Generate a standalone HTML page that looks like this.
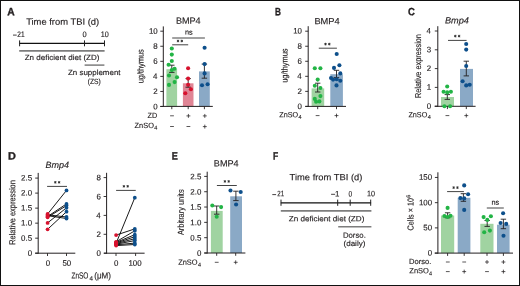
<!DOCTYPE html>
<html><head><meta charset="utf-8"><style>
html,body{margin:0;padding:0;background:#fff;width:520px;height:286px;overflow:hidden}
svg{display:block;will-change:transform}
text{font-family:"Liberation Sans", sans-serif;text-rendering:geometricPrecision;fill:#231f20;stroke:#231f20;stroke-width:0.15px}
</style></head><body>
<svg width="520" height="286" viewBox="0 0 520 286">
<rect x="0" y="0" width="520" height="286" fill="#fff"/>
<rect class="sh" x="0.5" y="0.5" width="519" height="285" fill="none" stroke="#111" stroke-width="1"/>
<line class="sh" x1="19.2" y1="43.4" x2="105" y2="43.4" stroke="#111" stroke-width="1.3"/>
<line class="sh" x1="19.6" y1="40.4" x2="19.6" y2="46.3" stroke="#222" stroke-width="1"/>
<line class="sh" x1="84.5" y1="40.4" x2="84.5" y2="46.3" stroke="#222" stroke-width="1"/>
<line class="sh" x1="104.5" y1="40.4" x2="104.5" y2="46.3" stroke="#222" stroke-width="1"/>
<line class="sh" x1="19.2" y1="50.9" x2="104.6" y2="50.9" stroke="#7d7d7d" stroke-width="1.9"/>
<line class="sh" x1="84.6" y1="65.1" x2="104.4" y2="65.1" stroke="#7d7d7d" stroke-width="1.5"/>
<line class="sh" x1="13" y1="35.1" x2="16.7" y2="35.1" stroke="#231f20" stroke-width="0.85"/>
<line class="sh" x1="272.3" y1="194.6" x2="276.1" y2="194.6" stroke="#231f20" stroke-width="0.85"/>
<line class="sh" x1="331.1" y1="194.3" x2="335.1" y2="194.3" stroke="#231f20" stroke-width="0.85"/>
<line class="sh" x1="280.8" y1="202.8" x2="371.1" y2="202.8" stroke="#111" stroke-width="1.3"/>
<line class="sh" x1="281" y1="199.6" x2="281" y2="205.8" stroke="#222" stroke-width="1"/>
<line class="sh" x1="337.7" y1="199.6" x2="337.7" y2="205.8" stroke="#222" stroke-width="1"/>
<line class="sh" x1="350.2" y1="199.6" x2="350.2" y2="205.8" stroke="#222" stroke-width="1"/>
<line class="sh" x1="370.7" y1="199.6" x2="370.7" y2="205.8" stroke="#222" stroke-width="1"/>
<line class="sh" x1="280.8" y1="210.9" x2="371.4" y2="210.9" stroke="#7d7d7d" stroke-width="1.9"/>
<line class="sh" x1="338.2" y1="226.7" x2="371.4" y2="226.7" stroke="#7d7d7d" stroke-width="1.5"/>
<rect class="sh" x="166.4" y="69.2" width="10.7" height="37.1" fill="#a0d3a1"/>
<rect class="sh" x="182.9" y="83.3" width="10.6" height="23" fill="#e08595"/>
<rect class="sh" x="199" y="71.4" width="10.8" height="34.9" fill="#8aa9c6"/>
<line class="sh" x1="163.3" y1="26.4" x2="163.3" y2="106.8" stroke="#231f20" stroke-width="1"/>
<line class="sh" x1="160.3" y1="106.5" x2="163.3" y2="106.5" stroke="#231f20" stroke-width="0.9"/>
<line class="sh" x1="160.3" y1="91.44" x2="163.3" y2="91.44" stroke="#231f20" stroke-width="0.9"/>
<line class="sh" x1="160.3" y1="76.38" x2="163.3" y2="76.38" stroke="#231f20" stroke-width="0.9"/>
<line class="sh" x1="160.3" y1="61.32" x2="163.3" y2="61.32" stroke="#231f20" stroke-width="0.9"/>
<line class="sh" x1="160.3" y1="46.26" x2="163.3" y2="46.26" stroke="#231f20" stroke-width="0.9"/>
<line class="sh" x1="160.3" y1="31.2" x2="163.3" y2="31.2" stroke="#231f20" stroke-width="0.9"/>
<line class="sh" x1="160.3" y1="106.4" x2="212.8" y2="106.4" stroke="#231f20" stroke-width="1"/>
<line class="sh" x1="171.8" y1="106.4" x2="171.8" y2="109.2" stroke="#231f20" stroke-width="0.9"/>
<line class="sh" x1="188.2" y1="106.4" x2="188.2" y2="109.2" stroke="#231f20" stroke-width="0.9"/>
<line class="sh" x1="204.4" y1="106.4" x2="204.4" y2="109.2" stroke="#231f20" stroke-width="0.9"/>
<line class="sh" x1="171.8" y1="65.2" x2="171.8" y2="72.4" stroke="#231f20" stroke-width="0.9"/>
<line class="sh" x1="169.1" y1="65.2" x2="174.5" y2="65.2" stroke="#231f20" stroke-width="0.9"/>
<line class="sh" x1="169.1" y1="72.4" x2="174.5" y2="72.4" stroke="#231f20" stroke-width="0.9"/>
<line class="sh" x1="188.2" y1="78.6" x2="188.2" y2="87.2" stroke="#231f20" stroke-width="0.9"/>
<line class="sh" x1="185.5" y1="78.6" x2="190.9" y2="78.6" stroke="#231f20" stroke-width="0.9"/>
<line class="sh" x1="185.5" y1="87.2" x2="190.9" y2="87.2" stroke="#231f20" stroke-width="0.9"/>
<line class="sh" x1="204.4" y1="64.1" x2="204.4" y2="78.2" stroke="#231f20" stroke-width="0.9"/>
<line class="sh" x1="201.7" y1="64.1" x2="207.1" y2="64.1" stroke="#231f20" stroke-width="0.9"/>
<line class="sh" x1="201.7" y1="78.2" x2="207.1" y2="78.2" stroke="#231f20" stroke-width="0.9"/>
<circle class="sh" cx="171.8" cy="48.5" r="2.05" fill="#22b445"/>
<circle class="sh" cx="171.8" cy="54.6" r="2.05" fill="#22b445"/>
<circle class="sh" cx="171.8" cy="61" r="2.05" fill="#22b445"/>
<circle class="sh" cx="168.6" cy="64.8" r="2.05" fill="#22b445"/>
<circle class="sh" cx="174.6" cy="68.7" r="2.05" fill="#22b445"/>
<circle class="sh" cx="171.8" cy="70.1" r="2.05" fill="#22b445"/>
<circle class="sh" cx="169" cy="75.5" r="2.05" fill="#22b445"/>
<circle class="sh" cx="177" cy="77.2" r="2.05" fill="#22b445"/>
<circle class="sh" cx="174.6" cy="82.1" r="2.05" fill="#22b445"/>
<circle class="sh" cx="169" cy="84.9" r="2.05" fill="#22b445"/>
<circle class="sh" cx="188.1" cy="68.3" r="2.05" fill="#d7122e"/>
<circle class="sh" cx="188.1" cy="78.6" r="2.05" fill="#d7122e"/>
<circle class="sh" cx="188.1" cy="84.7" r="2.05" fill="#d7122e"/>
<circle class="sh" cx="190.9" cy="89.3" r="2.05" fill="#d7122e"/>
<circle class="sh" cx="185.3" cy="93.2" r="2.05" fill="#d7122e"/>
<circle class="sh" cx="204.6" cy="47.7" r="2.05" fill="#0d4f8b"/>
<circle class="sh" cx="204.6" cy="64.1" r="2.05" fill="#0d4f8b"/>
<circle class="sh" cx="204.6" cy="73.4" r="2.05" fill="#0d4f8b"/>
<circle class="sh" cx="202" cy="85.3" r="2.05" fill="#0d4f8b"/>
<circle class="sh" cx="207.6" cy="84.2" r="2.05" fill="#0d4f8b"/>
<line class="sh" x1="172.2" y1="38" x2="204.9" y2="38" stroke="#444" stroke-width="1"/>
<line class="sh" x1="172.2" y1="44.8" x2="188.2" y2="44.8" stroke="#444" stroke-width="1"/>
<line class="sh" x1="178" y1="42.3" x2="178" y2="39.7" stroke="#2a2a2a" stroke-width="0.85"/>
<line class="sh" x1="176.87" y1="41.65" x2="179.13" y2="40.35" stroke="#2a2a2a" stroke-width="0.85"/>
<line class="sh" x1="179.13" y1="41.65" x2="176.87" y2="40.35" stroke="#2a2a2a" stroke-width="0.85"/>
<line class="sh" x1="181.8" y1="42.3" x2="181.8" y2="39.7" stroke="#2a2a2a" stroke-width="0.85"/>
<line class="sh" x1="180.67" y1="41.65" x2="182.93" y2="40.35" stroke="#2a2a2a" stroke-width="0.85"/>
<line class="sh" x1="182.93" y1="41.65" x2="180.67" y2="40.35" stroke="#2a2a2a" stroke-width="0.85"/>
<line class="sh" x1="170.1" y1="115.8" x2="173.9" y2="115.8" stroke="#231f20" stroke-width="0.75"/>
<line class="sh" x1="186.45" y1="115.9" x2="190.35" y2="115.9" stroke="#231f20" stroke-width="0.75"/>
<line class="sh" x1="188.4" y1="113.95" x2="188.4" y2="117.85" stroke="#231f20" stroke-width="0.75"/>
<line class="sh" x1="202.85" y1="115.9" x2="206.75" y2="115.9" stroke="#231f20" stroke-width="0.75"/>
<line class="sh" x1="204.8" y1="113.95" x2="204.8" y2="117.85" stroke="#231f20" stroke-width="0.75"/>
<line class="sh" x1="170.1" y1="126.5" x2="173.9" y2="126.5" stroke="#231f20" stroke-width="0.75"/>
<line class="sh" x1="186.5" y1="126.5" x2="190.3" y2="126.5" stroke="#231f20" stroke-width="0.75"/>
<line class="sh" x1="202.85" y1="126.6" x2="206.75" y2="126.6" stroke="#231f20" stroke-width="0.75"/>
<line class="sh" x1="204.8" y1="124.65" x2="204.8" y2="128.55" stroke="#231f20" stroke-width="0.75"/>
<rect class="sh" x="311.6" y="88.4" width="12.6" height="18" fill="#a0d3a1"/>
<rect class="sh" x="330.3" y="74.2" width="12.6" height="32.2" fill="#8aa9c6"/>
<line class="sh" x1="308.2" y1="26.2" x2="308.2" y2="106.9" stroke="#231f20" stroke-width="1"/>
<line class="sh" x1="305.2" y1="106.4" x2="308.2" y2="106.4" stroke="#231f20" stroke-width="0.9"/>
<line class="sh" x1="305.2" y1="91.36" x2="308.2" y2="91.36" stroke="#231f20" stroke-width="0.9"/>
<line class="sh" x1="305.2" y1="76.32" x2="308.2" y2="76.32" stroke="#231f20" stroke-width="0.9"/>
<line class="sh" x1="305.2" y1="61.28" x2="308.2" y2="61.28" stroke="#231f20" stroke-width="0.9"/>
<line class="sh" x1="305.2" y1="46.24" x2="308.2" y2="46.24" stroke="#231f20" stroke-width="0.9"/>
<line class="sh" x1="305.2" y1="31.2" x2="308.2" y2="31.2" stroke="#231f20" stroke-width="0.9"/>
<line class="sh" x1="305.3" y1="106.4" x2="346" y2="106.4" stroke="#231f20" stroke-width="1"/>
<line class="sh" x1="317.7" y1="106.4" x2="317.7" y2="109.2" stroke="#231f20" stroke-width="0.9"/>
<line class="sh" x1="336.5" y1="106.4" x2="336.5" y2="109.2" stroke="#231f20" stroke-width="0.9"/>
<line class="sh" x1="317.7" y1="83.2" x2="317.7" y2="92" stroke="#231f20" stroke-width="0.9"/>
<line class="sh" x1="315" y1="83.2" x2="320.4" y2="83.2" stroke="#231f20" stroke-width="0.9"/>
<line class="sh" x1="315" y1="92" x2="320.4" y2="92" stroke="#231f20" stroke-width="0.9"/>
<line class="sh" x1="336.5" y1="70.3" x2="336.5" y2="77.6" stroke="#231f20" stroke-width="0.9"/>
<line class="sh" x1="333.8" y1="70.3" x2="339.2" y2="70.3" stroke="#231f20" stroke-width="0.9"/>
<line class="sh" x1="333.8" y1="77.6" x2="339.2" y2="77.6" stroke="#231f20" stroke-width="0.9"/>
<circle class="sh" cx="314.8" cy="68.3" r="2.05" fill="#22b445"/>
<circle class="sh" cx="320.4" cy="68.3" r="2.05" fill="#22b445"/>
<circle class="sh" cx="317.7" cy="79.6" r="2.05" fill="#22b445"/>
<circle class="sh" cx="314.8" cy="85.8" r="2.05" fill="#22b445"/>
<circle class="sh" cx="320.4" cy="88" r="2.05" fill="#22b445"/>
<circle class="sh" cx="320.4" cy="96.1" r="2.05" fill="#22b445"/>
<circle class="sh" cx="314.8" cy="98.9" r="2.05" fill="#22b445"/>
<circle class="sh" cx="316.1" cy="101.7" r="2.05" fill="#22b445"/>
<circle class="sh" cx="319.4" cy="101.4" r="2.05" fill="#22b445"/>
<circle class="sh" cx="336.7" cy="54" r="2.05" fill="#0d4f8b"/>
<circle class="sh" cx="339.4" cy="65.3" r="2.05" fill="#0d4f8b"/>
<circle class="sh" cx="334" cy="67.9" r="2.05" fill="#0d4f8b"/>
<circle class="sh" cx="340.3" cy="73.4" r="2.05" fill="#0d4f8b"/>
<circle class="sh" cx="331" cy="78" r="2.05" fill="#0d4f8b"/>
<circle class="sh" cx="333.1" cy="79.6" r="2.05" fill="#0d4f8b"/>
<circle class="sh" cx="336.7" cy="79.2" r="2.05" fill="#0d4f8b"/>
<circle class="sh" cx="340.3" cy="80.7" r="2.05" fill="#0d4f8b"/>
<circle class="sh" cx="336.5" cy="85.4" r="2.05" fill="#0d4f8b"/>
<line class="sh" x1="318.8" y1="48.2" x2="336.9" y2="48.2" stroke="#444" stroke-width="1"/>
<line class="sh" x1="325.5" y1="45.4" x2="325.5" y2="42.8" stroke="#2a2a2a" stroke-width="0.85"/>
<line class="sh" x1="324.37" y1="44.75" x2="326.63" y2="43.45" stroke="#2a2a2a" stroke-width="0.85"/>
<line class="sh" x1="326.63" y1="44.75" x2="324.37" y2="43.45" stroke="#2a2a2a" stroke-width="0.85"/>
<line class="sh" x1="329.3" y1="45.4" x2="329.3" y2="42.8" stroke="#2a2a2a" stroke-width="0.85"/>
<line class="sh" x1="328.17" y1="44.75" x2="330.43" y2="43.45" stroke="#2a2a2a" stroke-width="0.85"/>
<line class="sh" x1="330.43" y1="44.75" x2="328.17" y2="43.45" stroke="#2a2a2a" stroke-width="0.85"/>
<line class="sh" x1="315.7" y1="115.6" x2="319.5" y2="115.6" stroke="#231f20" stroke-width="0.75"/>
<line class="sh" x1="334.55" y1="115.6" x2="338.45" y2="115.6" stroke="#231f20" stroke-width="0.75"/>
<line class="sh" x1="336.5" y1="113.65" x2="336.5" y2="117.55" stroke="#231f20" stroke-width="0.75"/>
<rect class="sh" x="441" y="97" width="13" height="9.3" fill="#a0d3a1"/>
<rect class="sh" x="460" y="68.9" width="13" height="37.4" fill="#8aa9c6"/>
<line class="sh" x1="437.8" y1="26.2" x2="437.8" y2="106.8" stroke="#231f20" stroke-width="1"/>
<line class="sh" x1="434.8" y1="106.2" x2="437.8" y2="106.2" stroke="#231f20" stroke-width="0.9"/>
<line class="sh" x1="434.8" y1="87.4" x2="437.8" y2="87.4" stroke="#231f20" stroke-width="0.9"/>
<line class="sh" x1="434.8" y1="68.6" x2="437.8" y2="68.6" stroke="#231f20" stroke-width="0.9"/>
<line class="sh" x1="434.8" y1="49.8" x2="437.8" y2="49.8" stroke="#231f20" stroke-width="0.9"/>
<line class="sh" x1="434.8" y1="31" x2="437.8" y2="31" stroke="#231f20" stroke-width="0.9"/>
<line class="sh" x1="434.7" y1="106.3" x2="475.6" y2="106.3" stroke="#231f20" stroke-width="1"/>
<line class="sh" x1="447.4" y1="106.3" x2="447.4" y2="109.1" stroke="#231f20" stroke-width="0.9"/>
<line class="sh" x1="466.3" y1="106.3" x2="466.3" y2="109.1" stroke="#231f20" stroke-width="0.9"/>
<line class="sh" x1="447.3" y1="94.6" x2="447.3" y2="99.4" stroke="#231f20" stroke-width="0.9"/>
<line class="sh" x1="444.6" y1="94.6" x2="450" y2="94.6" stroke="#231f20" stroke-width="0.9"/>
<line class="sh" x1="444.6" y1="99.4" x2="450" y2="99.4" stroke="#231f20" stroke-width="0.9"/>
<line class="sh" x1="466.3" y1="61.2" x2="466.3" y2="75.9" stroke="#231f20" stroke-width="0.9"/>
<line class="sh" x1="463.6" y1="61.2" x2="469" y2="61.2" stroke="#231f20" stroke-width="0.9"/>
<line class="sh" x1="463.6" y1="75.9" x2="469" y2="75.9" stroke="#231f20" stroke-width="0.9"/>
<circle class="sh" cx="447.2" cy="86.5" r="2.05" fill="#22b445"/>
<circle class="sh" cx="443.6" cy="91.7" r="2.05" fill="#22b445"/>
<circle class="sh" cx="447.2" cy="92.4" r="2.05" fill="#22b445"/>
<circle class="sh" cx="450.9" cy="91.7" r="2.05" fill="#22b445"/>
<circle class="sh" cx="444.4" cy="106.3" r="2.05" fill="#22b445"/>
<circle class="sh" cx="450.1" cy="106.3" r="2.05" fill="#22b445"/>
<circle class="sh" cx="466.2" cy="44" r="2.05" fill="#0d4f8b"/>
<circle class="sh" cx="466.2" cy="49.6" r="2.05" fill="#0d4f8b"/>
<circle class="sh" cx="466.2" cy="66" r="2.05" fill="#0d4f8b"/>
<circle class="sh" cx="462.6" cy="81.2" r="2.05" fill="#0d4f8b"/>
<circle class="sh" cx="466.2" cy="85.4" r="2.05" fill="#0d4f8b"/>
<circle class="sh" cx="469.7" cy="84.7" r="2.05" fill="#0d4f8b"/>
<line class="sh" x1="448" y1="40.4" x2="466.6" y2="40.4" stroke="#444" stroke-width="1"/>
<line class="sh" x1="455.3" y1="37.4" x2="455.3" y2="34.8" stroke="#2a2a2a" stroke-width="0.85"/>
<line class="sh" x1="454.17" y1="36.75" x2="456.43" y2="35.45" stroke="#2a2a2a" stroke-width="0.85"/>
<line class="sh" x1="456.43" y1="36.75" x2="454.17" y2="35.45" stroke="#2a2a2a" stroke-width="0.85"/>
<line class="sh" x1="459.1" y1="37.4" x2="459.1" y2="34.8" stroke="#2a2a2a" stroke-width="0.85"/>
<line class="sh" x1="457.97" y1="36.75" x2="460.23" y2="35.45" stroke="#2a2a2a" stroke-width="0.85"/>
<line class="sh" x1="460.23" y1="36.75" x2="457.97" y2="35.45" stroke="#2a2a2a" stroke-width="0.85"/>
<line class="sh" x1="445.5" y1="115.6" x2="449.3" y2="115.6" stroke="#231f20" stroke-width="0.75"/>
<line class="sh" x1="464.35" y1="115.6" x2="468.25" y2="115.6" stroke="#231f20" stroke-width="0.75"/>
<line class="sh" x1="466.3" y1="113.65" x2="466.3" y2="117.55" stroke="#231f20" stroke-width="0.75"/>
<line class="sh" x1="38.2" y1="172.9" x2="38.2" y2="253.7" stroke="#231f20" stroke-width="1"/>
<line class="sh" x1="35.2" y1="253.2" x2="38.2" y2="253.2" stroke="#231f20" stroke-width="0.9"/>
<line class="sh" x1="35.2" y1="238.18" x2="38.2" y2="238.18" stroke="#231f20" stroke-width="0.9"/>
<line class="sh" x1="35.2" y1="223.16" x2="38.2" y2="223.16" stroke="#231f20" stroke-width="0.9"/>
<line class="sh" x1="35.2" y1="208.14" x2="38.2" y2="208.14" stroke="#231f20" stroke-width="0.9"/>
<line class="sh" x1="35.2" y1="193.12" x2="38.2" y2="193.12" stroke="#231f20" stroke-width="0.9"/>
<line class="sh" x1="35.2" y1="178.1" x2="38.2" y2="178.1" stroke="#231f20" stroke-width="0.9"/>
<line class="sh" x1="35.2" y1="253.2" x2="75.3" y2="253.2" stroke="#231f20" stroke-width="1"/>
<line class="sh" x1="47.5" y1="253.2" x2="47.5" y2="256" stroke="#231f20" stroke-width="0.9"/>
<line class="sh" x1="66.5" y1="253.2" x2="66.5" y2="256" stroke="#231f20" stroke-width="0.9"/>
<line class="sh" x1="47.6" y1="214" x2="66.5" y2="190.4" stroke="#000" stroke-width="0.9"/>
<line class="sh" x1="47.6" y1="214.8" x2="66.5" y2="217" stroke="#000" stroke-width="0.9"/>
<line class="sh" x1="47.6" y1="215.7" x2="66.5" y2="218.5" stroke="#000" stroke-width="0.9"/>
<line class="sh" x1="47.6" y1="217.3" x2="66.5" y2="205.6" stroke="#000" stroke-width="0.9"/>
<line class="sh" x1="47.6" y1="216.5" x2="66.5" y2="203.9" stroke="#000" stroke-width="0.9"/>
<line class="sh" x1="47.6" y1="222.9" x2="66.5" y2="207.8" stroke="#000" stroke-width="0.9"/>
<line class="sh" x1="47.6" y1="229.3" x2="66.5" y2="211.7" stroke="#000" stroke-width="0.9"/>
<circle class="sh" cx="47.6" cy="214" r="1.9" fill="#d7122e"/>
<circle class="sh" cx="47.6" cy="214.8" r="1.9" fill="#d7122e"/>
<circle class="sh" cx="47.6" cy="215.7" r="1.9" fill="#d7122e"/>
<circle class="sh" cx="47.6" cy="217.3" r="1.9" fill="#d7122e"/>
<circle class="sh" cx="47.6" cy="216.5" r="1.9" fill="#d7122e"/>
<circle class="sh" cx="47.6" cy="222.9" r="1.9" fill="#d7122e"/>
<circle class="sh" cx="47.6" cy="229.3" r="1.9" fill="#d7122e"/>
<circle class="sh" cx="66.5" cy="190.4" r="1.9" fill="#0d4f8b"/>
<circle class="sh" cx="66.5" cy="217" r="1.9" fill="#0d4f8b"/>
<circle class="sh" cx="66.5" cy="218.5" r="1.9" fill="#0d4f8b"/>
<circle class="sh" cx="66.5" cy="205.6" r="1.9" fill="#0d4f8b"/>
<circle class="sh" cx="66.5" cy="203.9" r="1.9" fill="#0d4f8b"/>
<circle class="sh" cx="66.5" cy="207.8" r="1.9" fill="#0d4f8b"/>
<circle class="sh" cx="66.5" cy="211.7" r="1.9" fill="#0d4f8b"/>
<line class="sh" x1="47.1" y1="186.4" x2="67" y2="186.4" stroke="#444" stroke-width="1"/>
<line class="sh" x1="55.3" y1="183.6" x2="55.3" y2="181" stroke="#2a2a2a" stroke-width="0.85"/>
<line class="sh" x1="54.17" y1="182.95" x2="56.43" y2="181.65" stroke="#2a2a2a" stroke-width="0.85"/>
<line class="sh" x1="56.43" y1="182.95" x2="54.17" y2="181.65" stroke="#2a2a2a" stroke-width="0.85"/>
<line class="sh" x1="59.1" y1="183.6" x2="59.1" y2="181" stroke="#2a2a2a" stroke-width="0.85"/>
<line class="sh" x1="57.97" y1="182.95" x2="60.23" y2="181.65" stroke="#2a2a2a" stroke-width="0.85"/>
<line class="sh" x1="60.23" y1="182.95" x2="57.97" y2="181.65" stroke="#2a2a2a" stroke-width="0.85"/>
<line class="sh" x1="106.6" y1="172.8" x2="106.6" y2="253.7" stroke="#231f20" stroke-width="1"/>
<line class="sh" x1="103.6" y1="253.2" x2="106.6" y2="253.2" stroke="#231f20" stroke-width="0.9"/>
<line class="sh" x1="103.6" y1="234.3" x2="106.6" y2="234.3" stroke="#231f20" stroke-width="0.9"/>
<line class="sh" x1="103.6" y1="215.4" x2="106.6" y2="215.4" stroke="#231f20" stroke-width="0.9"/>
<line class="sh" x1="103.6" y1="196.5" x2="106.6" y2="196.5" stroke="#231f20" stroke-width="0.9"/>
<line class="sh" x1="103.6" y1="177.6" x2="106.6" y2="177.6" stroke="#231f20" stroke-width="0.9"/>
<line class="sh" x1="104" y1="253.2" x2="144.6" y2="253.2" stroke="#231f20" stroke-width="1"/>
<line class="sh" x1="116" y1="253.2" x2="116" y2="256" stroke="#231f20" stroke-width="0.9"/>
<line class="sh" x1="135.6" y1="253.2" x2="135.6" y2="256" stroke="#231f20" stroke-width="0.9"/>
<line class="sh" x1="116.1" y1="235.1" x2="134.8" y2="228.9" stroke="#000" stroke-width="0.9"/>
<line class="sh" x1="116.1" y1="241.8" x2="134.8" y2="230.8" stroke="#000" stroke-width="0.9"/>
<line class="sh" x1="116.1" y1="242.4" x2="134.8" y2="234.7" stroke="#000" stroke-width="0.9"/>
<line class="sh" x1="116.1" y1="243" x2="134.8" y2="236.7" stroke="#000" stroke-width="0.9"/>
<line class="sh" x1="116.1" y1="243.6" x2="134.8" y2="238.7" stroke="#000" stroke-width="0.9"/>
<line class="sh" x1="116.1" y1="244.2" x2="134.8" y2="240.6" stroke="#000" stroke-width="0.9"/>
<line class="sh" x1="116.1" y1="244.8" x2="134.8" y2="243.1" stroke="#000" stroke-width="0.9"/>
<line class="sh" x1="116.1" y1="245.6" x2="134.8" y2="244.5" stroke="#000" stroke-width="0.9"/>
<line class="sh" x1="116.1" y1="243.3" x2="134.8" y2="197.7" stroke="#000" stroke-width="0.9"/>
<circle class="sh" cx="116.1" cy="235.1" r="1.9" fill="#d7122e"/>
<circle class="sh" cx="116.1" cy="241.8" r="1.9" fill="#d7122e"/>
<circle class="sh" cx="116.1" cy="242.4" r="1.9" fill="#d7122e"/>
<circle class="sh" cx="116.1" cy="243" r="1.9" fill="#d7122e"/>
<circle class="sh" cx="116.1" cy="243.6" r="1.9" fill="#d7122e"/>
<circle class="sh" cx="116.1" cy="244.2" r="1.9" fill="#d7122e"/>
<circle class="sh" cx="116.1" cy="244.8" r="1.9" fill="#d7122e"/>
<circle class="sh" cx="116.1" cy="245.6" r="1.9" fill="#d7122e"/>
<circle class="sh" cx="116.1" cy="243.3" r="1.9" fill="#d7122e"/>
<circle class="sh" cx="134.8" cy="228.9" r="1.9" fill="#0d4f8b"/>
<circle class="sh" cx="134.8" cy="230.8" r="1.9" fill="#0d4f8b"/>
<circle class="sh" cx="134.8" cy="234.7" r="1.9" fill="#0d4f8b"/>
<circle class="sh" cx="134.8" cy="236.7" r="1.9" fill="#0d4f8b"/>
<circle class="sh" cx="134.8" cy="238.7" r="1.9" fill="#0d4f8b"/>
<circle class="sh" cx="134.8" cy="240.6" r="1.9" fill="#0d4f8b"/>
<circle class="sh" cx="134.8" cy="243.1" r="1.9" fill="#0d4f8b"/>
<circle class="sh" cx="134.8" cy="244.5" r="1.9" fill="#0d4f8b"/>
<circle class="sh" cx="134.8" cy="197.7" r="1.9" fill="#0d4f8b"/>
<line class="sh" x1="116.1" y1="190.4" x2="135.75" y2="190.4" stroke="#444" stroke-width="1"/>
<line class="sh" x1="123.9" y1="187.6" x2="123.9" y2="185" stroke="#2a2a2a" stroke-width="0.85"/>
<line class="sh" x1="122.77" y1="186.95" x2="125.03" y2="185.65" stroke="#2a2a2a" stroke-width="0.85"/>
<line class="sh" x1="125.03" y1="186.95" x2="122.77" y2="185.65" stroke="#2a2a2a" stroke-width="0.85"/>
<line class="sh" x1="127.7" y1="187.6" x2="127.7" y2="185" stroke="#2a2a2a" stroke-width="0.85"/>
<line class="sh" x1="126.57" y1="186.95" x2="128.83" y2="185.65" stroke="#2a2a2a" stroke-width="0.85"/>
<line class="sh" x1="128.83" y1="186.95" x2="126.57" y2="185.65" stroke="#2a2a2a" stroke-width="0.85"/>
<rect class="sh" x="210.9" y="210.9" width="11.8" height="42.1" fill="#a0d3a1"/>
<rect class="sh" x="230.2" y="196.3" width="11.8" height="56.7" fill="#8aa9c6"/>
<line class="sh" x1="207.2" y1="171.7" x2="207.2" y2="253.5" stroke="#231f20" stroke-width="1"/>
<line class="sh" x1="204.2" y1="253" x2="207.2" y2="253" stroke="#231f20" stroke-width="0.9"/>
<line class="sh" x1="204.2" y1="237.68" x2="207.2" y2="237.68" stroke="#231f20" stroke-width="0.9"/>
<line class="sh" x1="204.2" y1="222.36" x2="207.2" y2="222.36" stroke="#231f20" stroke-width="0.9"/>
<line class="sh" x1="204.2" y1="207.04" x2="207.2" y2="207.04" stroke="#231f20" stroke-width="0.9"/>
<line class="sh" x1="204.2" y1="191.72" x2="207.2" y2="191.72" stroke="#231f20" stroke-width="0.9"/>
<line class="sh" x1="204.2" y1="176.4" x2="207.2" y2="176.4" stroke="#231f20" stroke-width="0.9"/>
<line class="sh" x1="204.3" y1="253" x2="245.4" y2="253" stroke="#231f20" stroke-width="1"/>
<line class="sh" x1="216.7" y1="253" x2="216.7" y2="255.8" stroke="#231f20" stroke-width="0.9"/>
<line class="sh" x1="235.7" y1="253" x2="235.7" y2="255.8" stroke="#231f20" stroke-width="0.9"/>
<line class="sh" x1="216.7" y1="206" x2="216.7" y2="214.2" stroke="#231f20" stroke-width="0.9"/>
<line class="sh" x1="214" y1="206" x2="219.4" y2="206" stroke="#231f20" stroke-width="0.9"/>
<line class="sh" x1="214" y1="214.2" x2="219.4" y2="214.2" stroke="#231f20" stroke-width="0.9"/>
<line class="sh" x1="235.9" y1="191.2" x2="235.9" y2="200.6" stroke="#231f20" stroke-width="0.9"/>
<line class="sh" x1="233.2" y1="191.2" x2="238.6" y2="191.2" stroke="#231f20" stroke-width="0.9"/>
<line class="sh" x1="233.2" y1="200.6" x2="238.6" y2="200.6" stroke="#231f20" stroke-width="0.9"/>
<circle class="sh" cx="212.3" cy="205.5" r="2.05" fill="#22b445"/>
<circle class="sh" cx="221.1" cy="207.1" r="2.05" fill="#22b445"/>
<circle class="sh" cx="216.7" cy="216.8" r="2.05" fill="#22b445"/>
<circle class="sh" cx="230.5" cy="190.5" r="2.05" fill="#0d4f8b"/>
<circle class="sh" cx="240.7" cy="192" r="2.05" fill="#0d4f8b"/>
<circle class="sh" cx="236.1" cy="204.5" r="2.05" fill="#0d4f8b"/>
<line class="sh" x1="216.9" y1="185.5" x2="236.8" y2="185.5" stroke="#444" stroke-width="1"/>
<line class="sh" x1="224.9" y1="182.7" x2="224.9" y2="180.1" stroke="#2a2a2a" stroke-width="0.85"/>
<line class="sh" x1="223.77" y1="182.05" x2="226.03" y2="180.75" stroke="#2a2a2a" stroke-width="0.85"/>
<line class="sh" x1="226.03" y1="182.05" x2="223.77" y2="180.75" stroke="#2a2a2a" stroke-width="0.85"/>
<line class="sh" x1="228.7" y1="182.7" x2="228.7" y2="180.1" stroke="#2a2a2a" stroke-width="0.85"/>
<line class="sh" x1="227.57" y1="182.05" x2="229.83" y2="180.75" stroke="#2a2a2a" stroke-width="0.85"/>
<line class="sh" x1="229.83" y1="182.05" x2="227.57" y2="180.75" stroke="#2a2a2a" stroke-width="0.85"/>
<line class="sh" x1="214.8" y1="262.3" x2="218.6" y2="262.3" stroke="#231f20" stroke-width="0.75"/>
<line class="sh" x1="233.75" y1="262.3" x2="237.65" y2="262.3" stroke="#231f20" stroke-width="0.75"/>
<line class="sh" x1="235.7" y1="260.35" x2="235.7" y2="264.25" stroke="#231f20" stroke-width="0.75"/>
<rect class="sh" x="441" y="215.5" width="13.2" height="37.6" fill="#a0d3a1"/>
<rect class="sh" x="457.7" y="197.8" width="12.7" height="55.3" fill="#8aa9c6"/>
<rect class="sh" x="480.3" y="223.8" width="13.2" height="29.3" fill="#a0d3a1"/>
<rect class="sh" x="497" y="224.7" width="12.6" height="28.4" fill="#8aa9c6"/>
<line class="sh" x1="437.9" y1="172.3" x2="437.9" y2="253.6" stroke="#231f20" stroke-width="1"/>
<line class="sh" x1="434.9" y1="253.1" x2="437.9" y2="253.1" stroke="#231f20" stroke-width="0.9"/>
<line class="sh" x1="434.9" y1="227.88" x2="437.9" y2="227.88" stroke="#231f20" stroke-width="0.9"/>
<line class="sh" x1="434.9" y1="202.66" x2="437.9" y2="202.66" stroke="#231f20" stroke-width="0.9"/>
<line class="sh" x1="434.9" y1="177.44" x2="437.9" y2="177.44" stroke="#231f20" stroke-width="0.9"/>
<line class="sh" x1="434.7" y1="253.1" x2="513" y2="253.1" stroke="#231f20" stroke-width="1"/>
<line class="sh" x1="447.6" y1="253.1" x2="447.6" y2="255.9" stroke="#231f20" stroke-width="0.9"/>
<line class="sh" x1="464.2" y1="253.1" x2="464.2" y2="255.9" stroke="#231f20" stroke-width="0.9"/>
<line class="sh" x1="487" y1="253.1" x2="487" y2="255.9" stroke="#231f20" stroke-width="0.9"/>
<line class="sh" x1="503.4" y1="253.1" x2="503.4" y2="255.9" stroke="#231f20" stroke-width="0.9"/>
<line class="sh" x1="447.6" y1="212.8" x2="447.6" y2="217.8" stroke="#231f20" stroke-width="0.9"/>
<line class="sh" x1="444.9" y1="212.8" x2="450.3" y2="212.8" stroke="#231f20" stroke-width="0.9"/>
<line class="sh" x1="444.9" y1="217.8" x2="450.3" y2="217.8" stroke="#231f20" stroke-width="0.9"/>
<line class="sh" x1="463.4" y1="193.7" x2="463.4" y2="201.3" stroke="#231f20" stroke-width="0.9"/>
<line class="sh" x1="460.7" y1="193.7" x2="466.1" y2="193.7" stroke="#231f20" stroke-width="0.9"/>
<line class="sh" x1="460.7" y1="201.3" x2="466.1" y2="201.3" stroke="#231f20" stroke-width="0.9"/>
<line class="sh" x1="487.2" y1="220.5" x2="487.2" y2="226.4" stroke="#231f20" stroke-width="0.9"/>
<line class="sh" x1="484.5" y1="220.5" x2="489.9" y2="220.5" stroke="#231f20" stroke-width="0.9"/>
<line class="sh" x1="484.5" y1="226.4" x2="489.9" y2="226.4" stroke="#231f20" stroke-width="0.9"/>
<line class="sh" x1="503.4" y1="219.2" x2="503.4" y2="228.7" stroke="#231f20" stroke-width="0.9"/>
<line class="sh" x1="500.7" y1="219.2" x2="506.1" y2="219.2" stroke="#231f20" stroke-width="0.9"/>
<line class="sh" x1="500.7" y1="228.7" x2="506.1" y2="228.7" stroke="#231f20" stroke-width="0.9"/>
<circle class="sh" cx="447.6" cy="207.9" r="2.05" fill="#22b445"/>
<circle class="sh" cx="444.4" cy="216" r="2.05" fill="#22b445"/>
<circle class="sh" cx="447.6" cy="217" r="2.05" fill="#22b445"/>
<circle class="sh" cx="450.5" cy="215.7" r="2.05" fill="#22b445"/>
<circle class="sh" cx="464.2" cy="185.4" r="2.05" fill="#0d4f8b"/>
<circle class="sh" cx="460.4" cy="198.1" r="2.05" fill="#0d4f8b"/>
<circle class="sh" cx="464.2" cy="198.4" r="2.05" fill="#0d4f8b"/>
<circle class="sh" cx="468.1" cy="194.3" r="2.05" fill="#0d4f8b"/>
<circle class="sh" cx="464.2" cy="209.9" r="2.05" fill="#0d4f8b"/>
<circle class="sh" cx="483.6" cy="217.1" r="2.05" fill="#22b445"/>
<circle class="sh" cx="490.9" cy="216.3" r="2.05" fill="#22b445"/>
<circle class="sh" cx="487.3" cy="219.9" r="2.05" fill="#22b445"/>
<circle class="sh" cx="484.2" cy="232.2" r="2.05" fill="#22b445"/>
<circle class="sh" cx="489.9" cy="230.6" r="2.05" fill="#22b445"/>
<circle class="sh" cx="503.1" cy="213.3" r="2.05" fill="#0d4f8b"/>
<circle class="sh" cx="500.6" cy="223" r="2.05" fill="#0d4f8b"/>
<circle class="sh" cx="506.2" cy="223.9" r="2.05" fill="#0d4f8b"/>
<circle class="sh" cx="503.5" cy="235.8" r="2.05" fill="#0d4f8b"/>
<line class="sh" x1="447.1" y1="191.6" x2="463.9" y2="191.6" stroke="#444" stroke-width="1"/>
<line class="sh" x1="453.65" y1="188.9" x2="453.65" y2="186.3" stroke="#2a2a2a" stroke-width="0.85"/>
<line class="sh" x1="452.52" y1="188.25" x2="454.78" y2="186.95" stroke="#2a2a2a" stroke-width="0.85"/>
<line class="sh" x1="454.78" y1="188.25" x2="452.52" y2="186.95" stroke="#2a2a2a" stroke-width="0.85"/>
<line class="sh" x1="457.45" y1="188.9" x2="457.45" y2="186.3" stroke="#2a2a2a" stroke-width="0.85"/>
<line class="sh" x1="456.32" y1="188.25" x2="458.58" y2="186.95" stroke="#2a2a2a" stroke-width="0.85"/>
<line class="sh" x1="458.58" y1="188.25" x2="456.32" y2="186.95" stroke="#2a2a2a" stroke-width="0.85"/>
<line class="sh" x1="486.8" y1="208" x2="503.8" y2="208" stroke="#444" stroke-width="1"/>
<line class="sh" x1="445.9" y1="262" x2="449.7" y2="262" stroke="#231f20" stroke-width="0.75"/>
<line class="sh" x1="462.3" y1="262" x2="466.1" y2="262" stroke="#231f20" stroke-width="0.75"/>
<line class="sh" x1="485.05" y1="262" x2="488.95" y2="262" stroke="#231f20" stroke-width="0.75"/>
<line class="sh" x1="487" y1="260.05" x2="487" y2="263.95" stroke="#231f20" stroke-width="0.75"/>
<line class="sh" x1="501.45" y1="262" x2="505.35" y2="262" stroke="#231f20" stroke-width="0.75"/>
<line class="sh" x1="503.4" y1="260.05" x2="503.4" y2="263.95" stroke="#231f20" stroke-width="0.75"/>
<line class="sh" x1="445.9" y1="271.6" x2="449.7" y2="271.6" stroke="#231f20" stroke-width="0.75"/>
<line class="sh" x1="462.25" y1="271.6" x2="466.15" y2="271.6" stroke="#231f20" stroke-width="0.75"/>
<line class="sh" x1="464.2" y1="269.65" x2="464.2" y2="273.55" stroke="#231f20" stroke-width="0.75"/>
<line class="sh" x1="485.1" y1="271.6" x2="488.9" y2="271.6" stroke="#231f20" stroke-width="0.75"/>
<line class="sh" x1="501.45" y1="271.6" x2="505.35" y2="271.6" stroke="#231f20" stroke-width="0.75"/>
<line class="sh" x1="503.4" y1="269.65" x2="503.4" y2="273.55" stroke="#231f20" stroke-width="0.75"/>
<text id="t0" class="tx" transform="rotate(0.05 7.32 15.35)" x="7.32" y="15.35" style="font-size:10.6px;font-weight:bold;stroke-width:0.35px;" textLength="7.41" lengthAdjust="spacingAndGlyphs">A</text>
<text id="t1" class="tx" transform="rotate(0.05 275.07 15.35)" x="275.07" y="15.35" style="font-size:10.6px;font-weight:bold;stroke-width:0.35px;" textLength="5.91" lengthAdjust="spacingAndGlyphs">B</text>
<text id="t2" class="tx" transform="rotate(0.05 408.02 15.32)" x="408.02" y="15.32" style="font-size:10.6px;font-weight:bold;stroke-width:0.35px;" textLength="6.91" lengthAdjust="spacingAndGlyphs">C</text>
<text id="t3" class="tx" transform="rotate(0.05 8.07 159.45)" x="8.07" y="159.45" style="font-size:10.6px;font-weight:bold;stroke-width:0.35px;" textLength="7.91" lengthAdjust="spacingAndGlyphs">D</text>
<text id="t4" class="tx" transform="rotate(0.05 171.85 159.45)" x="171.85" y="159.45" style="font-size:10.6px;font-weight:bold;stroke-width:0.35px;" textLength="6.08" lengthAdjust="spacingAndGlyphs">E</text>
<text id="t5" class="tx" transform="rotate(0.05 272.98 159.45)" x="272.98" y="159.45" style="font-size:10.6px;font-weight:bold;stroke-width:0.35px;" textLength="5.23" lengthAdjust="spacingAndGlyphs">F</text>
<text id="t6" class="tx" transform="rotate(0.05 26.15 24.68)" x="26.15" y="24.68" style="font-size:9px;" textLength="73.02" lengthAdjust="spacingAndGlyphs">Time from TBI (d)</text>
<text id="t7" class="tx" transform="rotate(0.05 17.3 36.92)" x="17.3" y="36.92" style="font-size:7.9px;" textLength="7.28" lengthAdjust="spacingAndGlyphs">21</text>
<text id="t8" class="tx" transform="rotate(0.05 82.53 36.93)" x="82.53" y="36.93" style="font-size:7.9px;" textLength="4.14" lengthAdjust="spacingAndGlyphs">0</text>
<text id="t9" class="tx" transform="rotate(0.05 100.67 36.93)" x="100.67" y="36.93" style="font-size:7.9px;" textLength="8.03" lengthAdjust="spacingAndGlyphs">10</text>
<text id="t10" class="tx" transform="rotate(0.05 24.73 59.9)" x="24.73" y="59.9" style="font-size:7.6px;" textLength="74.66" lengthAdjust="spacingAndGlyphs">Zn deficient diet (ZD)</text>
<text id="t11" class="tx" transform="rotate(0.05 68.02 74.97)" x="68.02" y="74.97" style="font-size:7.6px;" textLength="52.48" lengthAdjust="spacingAndGlyphs">Zn supplement</text>
<text id="t12" class="tx" transform="rotate(0.05 87.77 83.97)" x="87.77" y="83.97" style="font-size:7.6px;" textLength="13.02" lengthAdjust="spacingAndGlyphs">(ZS)</text>
<text id="t13" class="tx" transform="rotate(0.05 289.62 180.3)" x="289.62" y="180.3" style="font-size:9px;" textLength="72.77" lengthAdjust="spacingAndGlyphs">Time from TBI (d)</text>
<text id="t14" class="tx" transform="rotate(0.05 277.25 196.37)" x="277.25" y="196.37" style="font-size:7.9px;" textLength="6.78" lengthAdjust="spacingAndGlyphs">21</text>
<text id="t15" class="tx" transform="rotate(0.05 337.18 196.4)" x="337.18" y="196.4" style="font-size:7.9px;" text-anchor="middle">1</text>
<text id="t16" class="tx" transform="rotate(0.05 348.53 196.52)" x="348.53" y="196.52" style="font-size:7.9px;" textLength="3.64" lengthAdjust="spacingAndGlyphs">0</text>
<text id="t17" class="tx" transform="rotate(0.05 366.88 196.37)" x="366.88" y="196.37" style="font-size:7.9px;" textLength="8.03" lengthAdjust="spacingAndGlyphs">10</text>
<text id="t18" class="tx" transform="rotate(0.05 288.73 221.3)" x="288.73" y="221.3" style="font-size:7.6px;" textLength="75.66" lengthAdjust="spacingAndGlyphs">Zn deficient diet (ZD)</text>
<text id="t19" class="tx" transform="rotate(0.05 342.95 237.75)" x="342.95" y="237.75" style="font-size:7.6px;" textLength="22.88" lengthAdjust="spacingAndGlyphs">Dorso.</text>
<text id="t20" class="tx" transform="rotate(0.05 343.48 245.97)" x="343.48" y="245.97" style="font-size:7.6px;" textLength="21.94" lengthAdjust="spacingAndGlyphs">(daily)</text>
<text id="t21" class="tx" transform="rotate(0.05 175.92 23.65)" x="175.92" y="23.65" style="font-size:9px;" textLength="24.77" lengthAdjust="spacingAndGlyphs">BMP4</text>
<text id="t22" class="tx" transform="rotate(0.05 314.43 24.22)" x="314.43" y="24.22" style="font-size:9px;" textLength="25.27" lengthAdjust="spacingAndGlyphs">BMP4</text>
<text id="t23" class="tx" transform="rotate(0.05 444.9 23.48)" x="444.9" y="23.48" style="font-size:9px;font-style:italic;" textLength="24.02" lengthAdjust="spacingAndGlyphs">Bmp4</text>
<text id="t24" class="tx" transform="rotate(0.05 45.4 167.93)" x="45.4" y="167.93" style="font-size:9px;font-style:italic;" textLength="23.52" lengthAdjust="spacingAndGlyphs">Bmp4</text>
<text id="t25" class="tx" transform="rotate(0.05 213.82 166.43)" x="213.82" y="166.43" style="font-size:9px;" textLength="24.77" lengthAdjust="spacingAndGlyphs">BMP4</text>
<text id="t26" class="tx" transform="translate(143.43,83.35) rotate(-89.95)" style="font-size:8.6px;" textLength="34.16" lengthAdjust="spacingAndGlyphs">ug/thymus</text>
<text id="t27" class="tx" transform="translate(420.88,98.05) rotate(-89.95)" style="font-size:8.6px;" textLength="64" lengthAdjust="spacingAndGlyphs">Relative expression</text>
<text id="t28" class="tx" transform="translate(15.3,244.75) rotate(-89.95)" style="font-size:8.6px;" textLength="64.5" lengthAdjust="spacingAndGlyphs">Relative expression</text>
<text id="t29" class="tx" transform="translate(183.72,235.12) rotate(-89.95)" style="font-size:8.6px;" textLength="45.77" lengthAdjust="spacingAndGlyphs">Arbitrary units</text>
<text id="t30" class="tx" transform="translate(413.52,230.5) rotate(-89.95)" style="font-size:8.6px;" textLength="32.47" lengthAdjust="spacingAndGlyphs">Cells × 10</text>
<text id="t31" class="tx" transform="translate(287.4,82.82) rotate(-89.95)" style="font-size:8.6px;" textLength="34.41" lengthAdjust="spacingAndGlyphs">ug/thymus</text>
<text id="t32" class="tx" transform="rotate(0.05 157.75 33.67)" x="157.75" y="33.67" style="font-size:7.9px;" text-anchor="end">10</text>
<text id="t33" class="tx" transform="rotate(0.05 157.75 48.77)" x="157.75" y="48.77" style="font-size:7.9px;" text-anchor="end">8</text>
<text id="t34" class="tx" transform="rotate(0.05 157.75 63.88)" x="157.75" y="63.88" style="font-size:7.9px;" text-anchor="end">6</text>
<text id="t35" class="tx" transform="rotate(0.05 157.5 78.98)" x="157.5" y="78.98" style="font-size:7.9px;" text-anchor="end">4</text>
<text id="t36" class="tx" transform="rotate(0.05 157.75 94.07)" x="157.75" y="94.07" style="font-size:7.9px;" text-anchor="end">2</text>
<text id="t37" class="tx" transform="rotate(0.05 157.75 109.18)" x="157.75" y="109.18" style="font-size:7.9px;" text-anchor="end">0</text>
<text id="t38" class="tx" transform="rotate(0.05 301.95 33.58)" x="301.95" y="33.58" style="font-size:7.9px;" text-anchor="end">10</text>
<text id="t39" class="tx" transform="rotate(0.05 301.95 48.67)" x="301.95" y="48.67" style="font-size:7.9px;" text-anchor="end">8</text>
<text id="t40" class="tx" transform="rotate(0.05 301.95 63.77)" x="301.95" y="63.77" style="font-size:7.9px;" text-anchor="end">6</text>
<text id="t41" class="tx" transform="rotate(0.05 301.7 78.87)" x="301.7" y="78.87" style="font-size:7.9px;" text-anchor="end">4</text>
<text id="t42" class="tx" transform="rotate(0.05 301.95 93.98)" x="301.95" y="93.98" style="font-size:7.9px;" text-anchor="end">2</text>
<text id="t43" class="tx" transform="rotate(0.05 301.95 109.07)" x="301.95" y="109.07" style="font-size:7.9px;" text-anchor="end">0</text>
<text id="t44" class="tx" transform="rotate(0.05 430.9 33.48)" x="430.9" y="33.48" style="font-size:7.9px;" text-anchor="end">4</text>
<text id="t45" class="tx" transform="rotate(0.05 431.15 52.27)" x="431.15" y="52.27" style="font-size:7.9px;" text-anchor="end">3</text>
<text id="t46" class="tx" transform="rotate(0.05 431.15 71.07)" x="431.15" y="71.07" style="font-size:7.9px;" text-anchor="end">2</text>
<text id="t47" class="tx" transform="rotate(0.05 431.15 89.87)" x="431.15" y="89.87" style="font-size:7.9px;" text-anchor="end">1</text>
<text id="t48" class="tx" transform="rotate(0.05 431.15 108.68)" x="431.15" y="108.68" style="font-size:7.9px;" text-anchor="end">0</text>
<text id="t49" class="tx" transform="rotate(0.05 32.05 180.47)" x="32.05" y="180.47" style="font-size:7.9px;" text-anchor="end">2.5</text>
<text id="t50" class="tx" transform="rotate(0.05 32.05 195.47)" x="32.05" y="195.47" style="font-size:7.9px;" text-anchor="end">2.0</text>
<text id="t51" class="tx" transform="rotate(0.05 32.05 210.45)" x="32.05" y="210.45" style="font-size:7.9px;" text-anchor="end">1.5</text>
<text id="t52" class="tx" transform="rotate(0.05 32.05 225.58)" x="32.05" y="225.58" style="font-size:7.9px;" text-anchor="end">1.0</text>
<text id="t53" class="tx" transform="rotate(0.05 32.05 240.68)" x="32.05" y="240.68" style="font-size:7.9px;" text-anchor="end">0.5</text>
<text id="t54" class="tx" transform="rotate(0.05 32.05 255.78)" x="32.05" y="255.78" style="font-size:7.9px;" text-anchor="end">0</text>
<text id="t55" class="tx" transform="rotate(0.05 100.85 180.28)" x="100.85" y="180.28" style="font-size:7.9px;" text-anchor="end">8</text>
<text id="t56" class="tx" transform="rotate(0.05 100.85 199.37)" x="100.85" y="199.37" style="font-size:7.9px;" text-anchor="end">6</text>
<text id="t57" class="tx" transform="rotate(0.05 100.6 218.18)" x="100.6" y="218.18" style="font-size:7.9px;" text-anchor="end">4</text>
<text id="t58" class="tx" transform="rotate(0.05 100.85 237.08)" x="100.85" y="237.08" style="font-size:7.9px;" text-anchor="end">2</text>
<text id="t59" class="tx" transform="rotate(0.05 100.85 255.78)" x="100.85" y="255.78" style="font-size:7.9px;" text-anchor="end">0</text>
<text id="t60" class="tx" transform="rotate(0.05 201.35 179.18)" x="201.35" y="179.18" style="font-size:7.9px;" text-anchor="end">2.5</text>
<text id="t61" class="tx" transform="rotate(0.05 201.35 194.58)" x="201.35" y="194.58" style="font-size:7.9px;" text-anchor="end">2.0</text>
<text id="t62" class="tx" transform="rotate(0.05 201.35 209.75)" x="201.35" y="209.75" style="font-size:7.9px;" text-anchor="end">1.5</text>
<text id="t63" class="tx" transform="rotate(0.05 201.35 225.18)" x="201.35" y="225.18" style="font-size:7.9px;" text-anchor="end">1.0</text>
<text id="t64" class="tx" transform="rotate(0.05 201.35 240.47)" x="201.35" y="240.47" style="font-size:7.9px;" text-anchor="end">0.5</text>
<text id="t65" class="tx" transform="rotate(0.05 201.35 255.78)" x="201.35" y="255.78" style="font-size:7.9px;" text-anchor="end">0</text>
<text id="t66" class="tx" transform="rotate(0.05 432.05 179.87)" x="432.05" y="179.87" style="font-size:7.9px;" text-anchor="end">150</text>
<text id="t67" class="tx" transform="rotate(0.05 432.05 205.18)" x="432.05" y="205.18" style="font-size:7.9px;" text-anchor="end">100</text>
<text id="t68" class="tx" transform="rotate(0.05 432.05 230.37)" x="432.05" y="230.37" style="font-size:7.9px;" text-anchor="end">50</text>
<text id="t69" class="tx" transform="rotate(0.05 432.05 255.58)" x="432.05" y="255.58" style="font-size:7.9px;" text-anchor="end">0</text>
<text id="t70" class="tx" transform="rotate(0.05 47.9 265.77)" x="47.9" y="265.77" style="font-size:7.9px;" text-anchor="middle">0</text>
<text id="t71" class="tx" transform="rotate(0.05 66.88 265.77)" x="66.88" y="265.77" style="font-size:7.9px;" text-anchor="middle">50</text>
<text id="t72" class="tx" transform="rotate(0.05 116.1 265.77)" x="116.1" y="265.77" style="font-size:7.9px;" text-anchor="middle">0</text>
<text id="t73" class="tx" transform="rotate(0.05 135.07 265.77)" x="135.07" y="265.77" style="font-size:7.9px;" text-anchor="middle">100</text>
<text id="t74" class="tx" transform="rotate(0.05 147.6 118)" x="147.6" y="118" style="font-size:7.6px;" textLength="9.63" lengthAdjust="spacingAndGlyphs">ZD</text>
<text id="t75" class="tx" transform="rotate(0.05 134.6 127.9)" x="134.6" y="127.9" style="font-size:7.6px;" textLength="19.34" lengthAdjust="spacingAndGlyphs">ZnSO</text>
<text id="t76" class="tx" transform="rotate(0.05 155.8 129.4)" x="155.8" y="129.4" style="font-size:5.5px;" text-anchor="middle">4</text>
<text id="t77" class="tx" transform="rotate(0.05 279.25 117.25)" x="279.25" y="117.25" style="font-size:7.6px;" textLength="18.84" lengthAdjust="spacingAndGlyphs">ZnSO</text>
<text id="t78" class="tx" transform="rotate(0.05 300.1 118.7)" x="300.1" y="118.7" style="font-size:5.5px;" text-anchor="middle">4</text>
<text id="t79" class="tx" transform="rotate(0.05 408.45 117.25)" x="408.45" y="117.25" style="font-size:7.6px;" textLength="18.84" lengthAdjust="spacingAndGlyphs">ZnSO</text>
<text id="t80" class="tx" transform="rotate(0.05 429.3 118.7)" x="429.3" y="118.7" style="font-size:5.5px;" text-anchor="middle">4</text>
<text id="t81" class="tx" transform="rotate(0.05 178.2 264.73)" x="178.2" y="264.73" style="font-size:7.6px;" textLength="19.34" lengthAdjust="spacingAndGlyphs">ZnSO</text>
<text id="t82" class="tx" transform="rotate(0.05 199.5 266.5)" x="199.5" y="266.5" style="font-size:5.5px;" text-anchor="middle">4</text>
<text id="t83" class="tx" transform="rotate(0.05 408.95 264.1)" x="408.95" y="264.1" style="font-size:7.6px;" textLength="22.38" lengthAdjust="spacingAndGlyphs">Dorso.</text>
<text id="t84" class="tx" transform="rotate(0.05 409.33 273.27)" x="409.33" y="273.27" style="font-size:7.6px;" textLength="19.59" lengthAdjust="spacingAndGlyphs">ZnSO</text>
<text id="t85" class="tx" transform="rotate(0.05 430.5 275.3)" x="430.5" y="275.3" style="font-size:5.5px;" text-anchor="middle">4</text>
<text id="t86" class="tx" transform="rotate(0.05 71.45 278.4)" x="71.45" y="278.4" style="font-size:8.8px;" textLength="16.98" lengthAdjust="spacingAndGlyphs">ZnSO</text>
<text id="t87" class="tx" transform="rotate(0.05 91.12 280.6)" x="91.12" y="280.6" style="font-size:6.2px;" text-anchor="middle">4</text>
<text id="t88" class="tx" transform="rotate(0.05 94.2 278.62)" x="94.2" y="278.62" style="font-size:8.8px;" textLength="16.77" lengthAdjust="spacingAndGlyphs">(μM)</text>
<text id="t89" class="tx" transform="rotate(0.05 188.93 34.63)" x="188.93" y="34.63" style="font-size:7.3px;" text-anchor="middle">ns</text>
<text id="t90" class="tx" transform="rotate(0.05 495.32 204.78)" x="495.32" y="204.78" style="font-size:7.3px;" text-anchor="middle">ns</text>
<text id="t91" class="tx" transform="translate(410.15,196.18) rotate(-89.95)" style="font-size:5.5px;" text-anchor="middle">6</text>
</svg>
</body></html>
